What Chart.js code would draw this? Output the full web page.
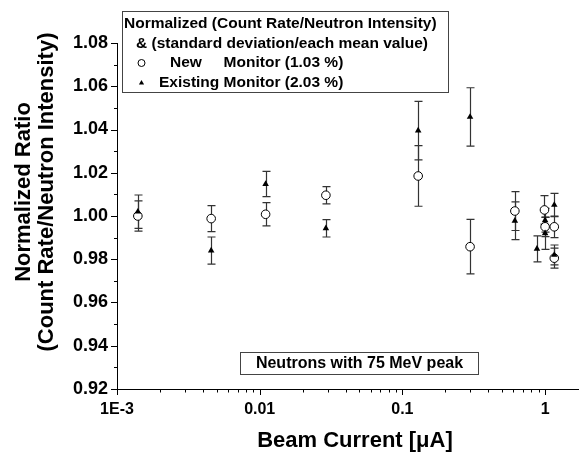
<!DOCTYPE html>
<html>
<head>
<meta charset="utf-8">
<script src="https://cdn.jsdelivr.net/npm/chart.js@4.4.0/dist/chart.umd.min.js"></script>
<style>
  html, body { margin: 0; padding: 0; background: #fff; }
  #wrap { width: 584px; height: 452px; }
</style>
</head>
<body>
<div id="wrap"><canvas id="ratioChart" width="584" height="452"></canvas></div>
<script>
// values (beam current in uA, normalized ratio, +/- error)
const newCurrent = [0.0014, 0.00457, 0.0110, 0.0291, 0.129, 0.298, 0.614, 0.99, 1.0, 1.16, 1.16];
const newRatio = [1.000, 0.9988, 1.0008, 1.0096, 1.0185, 0.9858, 1.0023, 1.0028, 0.995, 0.995, 0.9805];
const newError = [0.007, 0.006, 0.0054, 0.004, 0.014, 0.0126, 0.009, 0.0066, 0.0045, 0.005, 0.0046];

const existCurrent = [0.0014, 0.00457, 0.0110, 0.0291, 0.129, 0.298, 0.614, 0.877, 1.0, 1.0, 1.16, 1.16];
const existRatio = [1.002, 0.984, 1.0148, 0.9943, 1.0395, 1.0458, 0.9978, 0.9848, 0.998, 0.992, 1.0051, 0.982];
const existError = [0.0077, 0.0063, 0.0058, 0.004, 0.0135, 0.0135, 0.0087, 0.006, 0.0055, 0.0074, 0.0054, 0.0046];

const seriesNames = ["New", "Existing"];
const seriesSpread = ["1.03 %", "2.03 %"];

const xMajorTicks = [0.001, 0.01, 0.1, 1];
const xTickLabels = ["1E-3", "0.01", "0.1", "1"];
const yTickLabels = ["0.92", "0.94", "0.96", "0.98", "1.00", "1.02", "1.04", "1.06", "1.08"];

const legendTitle = ["Normalized (Count Rate/Neutron Intensity)", "& (standard deviation/each mean value)"];
const noteText = "Neutrons with 75 MeV peak";
const xTitle = "Beam Current [\u03bcA]";
const yTitle = ["Normalized Ratio", "(Count Rate/Neutron Intensity)"];

const FONT = "'Liberation Sans', Arial, sans-serif";

function toPoints(xs, ys) {
  return xs.map((x, i) => ({ x: x, y: ys[i] }));
}

// error bars, drawn under the markers
const errorBars = {
  id: "errorBars",
  beforeDatasetsDraw(chart) {
    const { ctx, scales } = chart;
    ctx.save();
    ctx.strokeStyle = "#333";
    ctx.lineWidth = 1.2;
    chart.data.datasets.forEach((ds) => {
      ds.data.forEach((p, i) => {
        const px = Math.round(scales.x.getPixelForValue(p.x)) + 0.5;
        const top = scales.y.getPixelForValue(p.y + ds.errors[i]);
        const bot = scales.y.getPixelForValue(p.y - ds.errors[i]);
        ctx.beginPath();
        ctx.moveTo(px, top);
        ctx.lineTo(px, bot);
        ctx.moveTo(px - 4, top);
        ctx.lineTo(px + 4, top);
        ctx.moveTo(px - 4, bot);
        ctx.lineTo(px + 4, bot);
        ctx.stroke();
      });
    });
    ctx.restore();
  },
};

// tick marks (major/minor), axis titles, legend box and note box
const decorations = {
  id: "decorations",
  afterDraw(chart) {
    const { ctx, scales, chartArea } = chart;
    const xs = scales.x;
    const ys = scales.y;
    ctx.save();
    ctx.strokeStyle = "#000";
    ctx.lineWidth = 1;

    // x ticks
    xMajorTicks.forEach((d) => {
      for (let k = 1; k <= 9; k++) {
        const v = k * d;
        if (v > xs.max) break;
        const px = Math.round(xs.getPixelForValue(v)) + 0.5;
        ctx.beginPath();
        ctx.moveTo(px, chartArea.bottom);
        ctx.lineTo(px, chartArea.bottom + (k === 1 ? 6 : 3.5));
        ctx.stroke();
      }
    });

    // y ticks
    for (let i = 0; i <= 16; i++) {
      const v = 0.92 + i * 0.01;
      const py = Math.round(ys.getPixelForValue(v)) + 0.5;
      ctx.beginPath();
      ctx.moveTo(chartArea.left, py);
      ctx.lineTo(chartArea.left - (i % 2 === 0 ? 6 : 3), py);
      ctx.stroke();
    }

    ctx.fillStyle = "#000";

    // x title
    ctx.font = "bold 22px " + FONT;
    ctx.textAlign = "center";
    ctx.textBaseline = "middle";
    ctx.fillText(xTitle, 355, 441);

    // y title (two lines, rotated)
    ctx.save();
    ctx.translate(24, 192);
    ctx.rotate(-Math.PI / 2);
    ctx.fillText(yTitle[0], 0, 0);
    ctx.fillText(yTitle[1], 0, 23);
    ctx.restore();

    // legend box
    ctx.strokeStyle = "#444";
    ctx.fillStyle = "#fff";
    ctx.fillRect(122.5, 11.5, 326, 81);
    ctx.strokeRect(122.5, 11.5, 326, 81);
    ctx.fillStyle = "#000";
    ctx.font = "bold 15.5px " + FONT;
    ctx.textAlign = "left";
    ctx.fillText(legendTitle[0], 124, 24);
    ctx.fillText(legendTitle[1], 136, 44);

    const monX = 159 + ctx.measureText(seriesNames[1] + " ").width;
    ctx.fillText(seriesNames[0], 170, 63);
    ctx.fillText("Monitor (" + seriesSpread[0] + ")", monX, 63);
    ctx.fillText(seriesNames[1] + " Monitor (" + seriesSpread[1] + ")", 159, 83);

    ctx.strokeStyle = "#000";
    ctx.fillStyle = "#fff";
    Chart.helpers.drawPoint(ctx, { pointStyle: "circle", radius: 3.5, borderWidth: 1, rotation: 0 }, 141.5, 63);
    ctx.fillStyle = "#000";
    Chart.helpers.drawPoint(ctx, { pointStyle: "triangle", radius: 3, borderWidth: 0, rotation: 0 }, 141.5, 83);

    // note box
    ctx.strokeStyle = "#444";
    ctx.strokeRect(240.5, 352.5, 238, 22);
    ctx.font = "bold 16px " + FONT;
    ctx.textAlign = "center";
    ctx.fillText(noteText, 359.5, 364);

    ctx.restore();
  },
};

const ctx = document.getElementById("ratioChart").getContext("2d");
new Chart(ctx, {
  type: "scatter",
  data: {
    datasets: [
      {
        label: seriesNames[0],
        data: toPoints(newCurrent, newRatio),
        errors: newError,
        pointStyle: "circle",
        pointRadius: 4.3,
        pointBackgroundColor: "#fff",
        pointBorderColor: "#000",
        pointBorderWidth: 1,
        order: 1,
      },
      {
        label: seriesNames[1],
        data: toPoints(existCurrent, existRatio),
        errors: existError,
        pointStyle: "triangle",
        pointRadius: 3.8,
        pointBackgroundColor: "#000",
        pointBorderColor: "#000",
        pointBorderWidth: 0,
        order: 0,
      },
    ],
  },
  options: {
    responsive: false,
    animation: false,
    devicePixelRatio: 1,
    clip: false,
    layout: { padding: { top: 43, right: 0, left: 0, bottom: 0 } },
    plugins: {
      legend: { display: false },
      tooltip: { enabled: false },
    },
    scales: {
      x: {
        type: "logarithmic",
        min: 0.001,
        max: 1.72,
        grid: { display: false, drawTicks: false },
        border: { display: true, color: "#000", width: 1 },
        afterBuildTicks: (scale) => {
          scale.ticks = xMajorTicks.map((v) => ({ value: v, major: true }));
        },
        afterFit: (scale) => {
          scale.height = 63;
        },
        ticks: {
          autoSkip: false,
          maxRotation: 0,
          padding: 11,
          color: "#000",
          font: { family: FONT, size: 16, weight: "bold" },
          callback: (value, index) => xTickLabels[index],
        },
      },
      y: {
        min: 0.92,
        max: 1.08,
        grid: { display: false, drawTicks: false },
        border: { display: true, color: "#000", width: 1 },
        afterBuildTicks: (scale) => {
          scale.ticks = yTickLabels.map((t) => ({ value: Number(t) }));
        },
        afterFit: (scale) => {
          scale.width = 117;
        },
        ticks: {
          padding: 9,
          color: "#000",
          font: { family: FONT, size: 18, weight: "bold" },
          callback: (value, index) => yTickLabels[index],
        },
      },
    },
  },
  plugins: [errorBars, decorations],
});
</script>
</body>
</html>
